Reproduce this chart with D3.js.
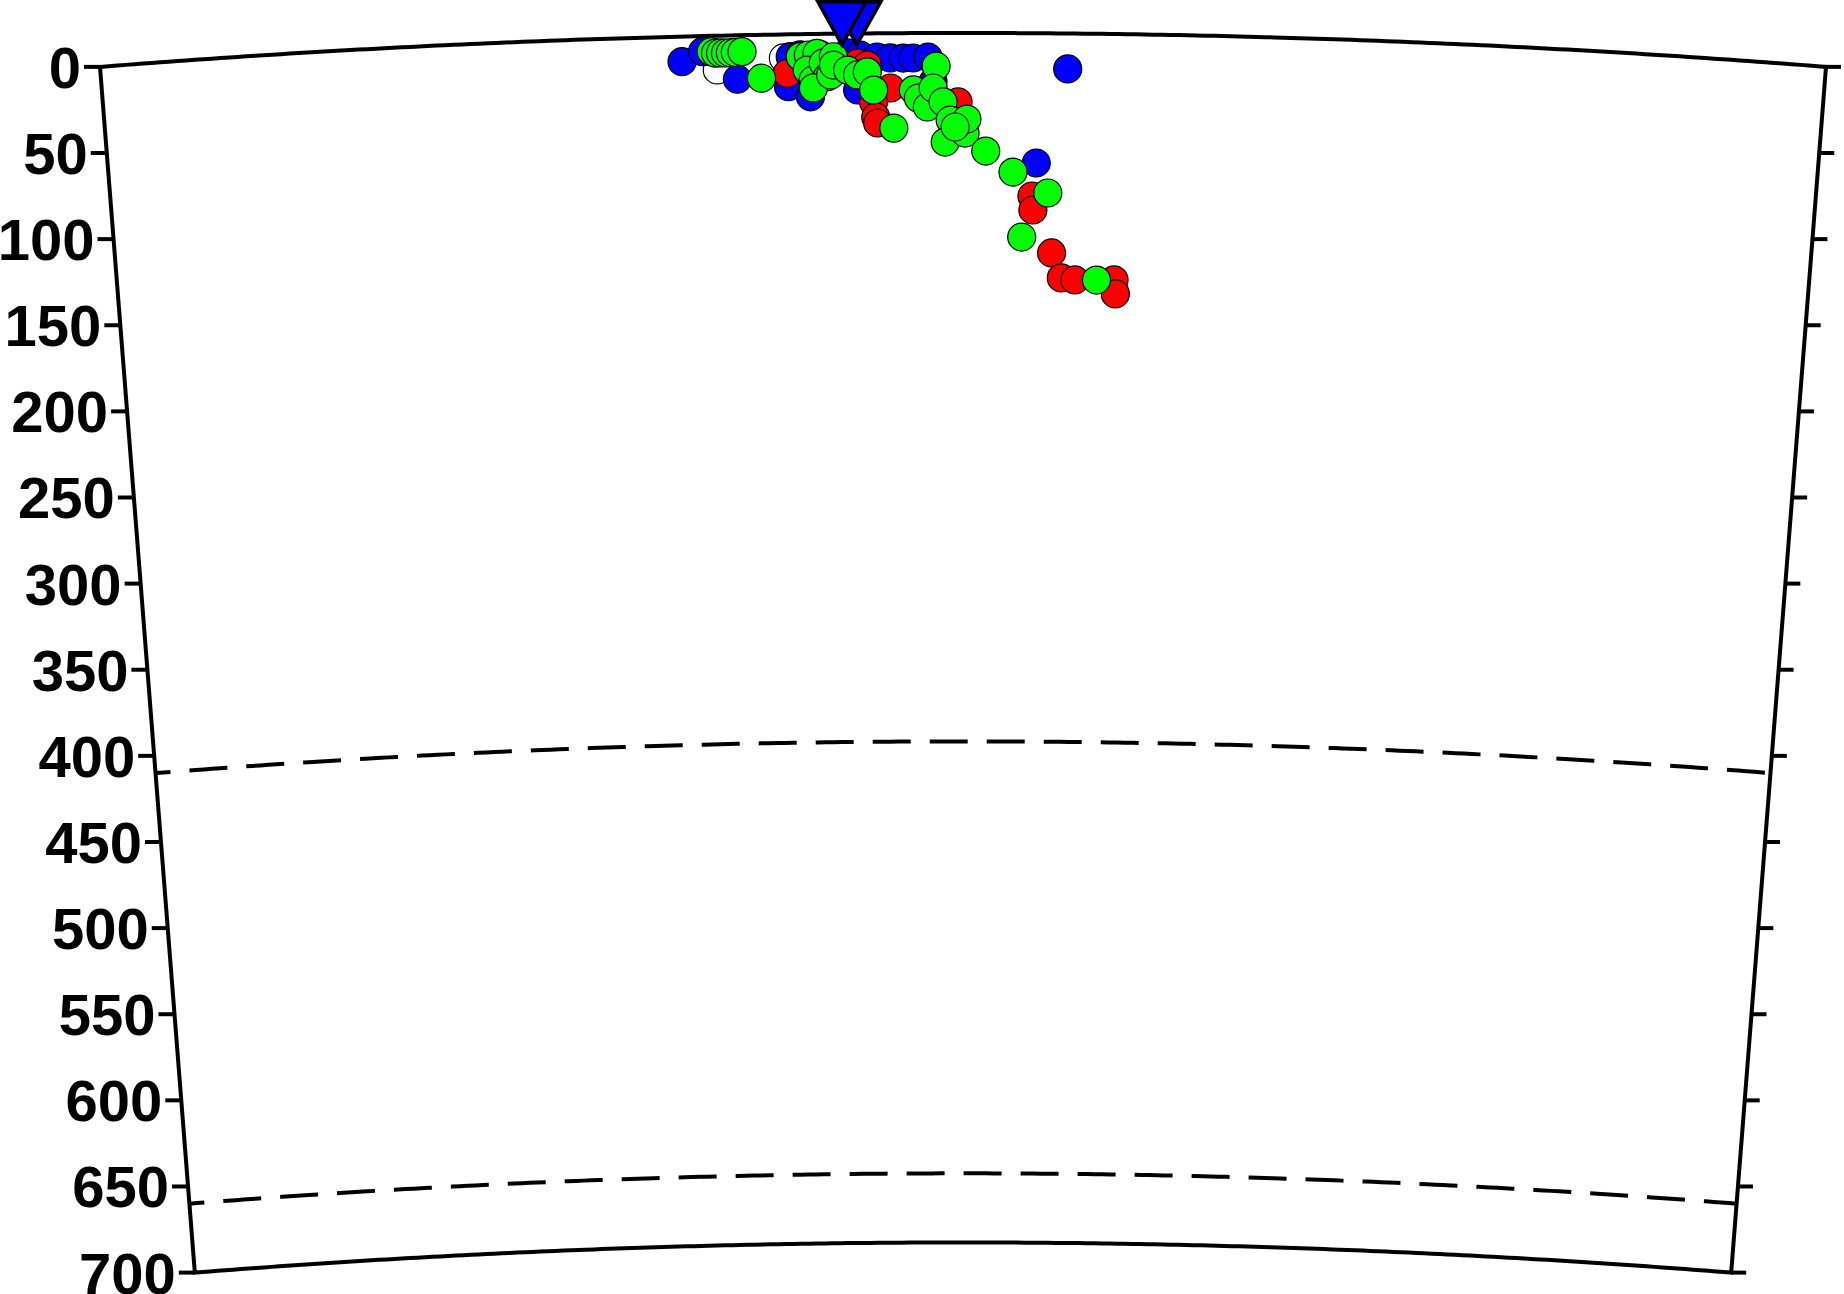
<!DOCTYPE html>
<html><head><meta charset="utf-8">
<script src="https://cdn.jsdelivr.net/npm/d3@7"></script>
<style>html,body{margin:0;padding:0;background:#fff;overflow:hidden} svg{display:block}</style>
</head><body>
<svg id="chart" width="1844" height="1294"></svg>
<script>
// ---- data ----
const depthTicks = [0,50,100,150,200,250,300,350,400,450,500,550,600,650,700];
const discontinuities = [410, 660];
// volcano markers (distance along profile km, elevation as negative depth km), in draw order
const volcanoDist = [438.6, 430.0];
const volcanoDepth = [-6, -6];
// events: distance along profile (km), depth (km)
const whiteDist  = [357.3, 395.8];
const whiteDepth = [19.8, 13.6];
const blueDist  = [337.0, 349.0, 368.9, 399.8, 398.5, 411.2, 405.6, 417.2, 432.9, 440.4, 450.2, 457.8, 465.3, 471.1, 479.7, 438.7, 482.6, 542.9, 560.8];
const blueDepth = [14.5,  9.0,   25.4,  12.9,  30.3,  36.3,  11.9,  11.9,  11.2,  12.5,  13.7,  14.3,  14.4,  14.4,  13.9,  32.7,  28.3,  75.1,  20.5];
const redDist  = [397.9, 438.7, 444.4, 457.8, 447.9, 449.1, 450.2, 497.1, 540.5, 541.1, 552.3, 558.2, 566.2, 589.4, 590.3];
const redDepth = [22.5,  17.1,  18.3,  31.7,  39.7,  48.4,  51.9,  39.9,  94.2,  102.3, 127.1, 141.5, 142.6, 142.3, 150.4];
const greenDist  = [354.0, 356.5, 359.4, 362.3, 365.1, 368.0, 371.9, 382.9, 405.6, 410.3, 415.3, 409.5, 412.9, 418.9, 421.2, 424.8, 413.0, 423.1, 424.8, 433.0, 438.7, 444.4, 448.0, 459.6, 484.4, 471.1, 474.0, 479.2, 482.6, 488.4, 492.5, 489.6, 501.2, 502.3, 495.4, 513.3, 529.3, 549.8, 534.6, 579.0];
const greenDepth = [9.1,   10.0,  10.0,  10.1,  10.0,  9.8,   9.5,   25.1,  13.0,  12.1,  11.2,  20.8,  26.6,  16.8,  24.8,  13.3,  31.2,  23.8,  18.1,  21.1,  24.0,  22.3,  32.8,  54.9,  19.1,  32.9,  37.6,  42.8,  31.8,  39.9,  50.4,  63.1,  57.9,  49.8,  54.4,  68.3,  80.4,  92.4,  118.0, 142.5];

// ---- geometry (curved earth cross-section) ----
const profileLen = 1000, earthR = 6371, maxDepth = 700;
const halfAng = (profileLen/2)/earthR;
const cx = 963, topY = 33;
const k = 863/(earthR*Math.sin(halfAng));
const R0 = earthR*k;
const cy = topY + R0;
const angle = d3.scaleLinear().domain([0, profileLen]).range([-halfAng, halfAng]);
const radius = d3.scaleLinear().domain([0, maxDepth]).range([R0, R0 - maxDepth*k]);
function proj(dist, depth){ const a = angle(dist), r = radius(depth); return [cx + r*Math.sin(a), cy - r*Math.cos(a)]; }

const svg = d3.select('#chart');
const line = d3.line();
const samples = d3.range(0, 201).map(i => profileLen*i/200);

// frame
const framePts = [
  ...samples.map(s => proj(s, 0)),
  ...d3.range(0, 71).map(i => proj(profileLen, i*10)),
  ...samples.slice().reverse().map(s => proj(s, maxDepth)),
  ...d3.range(70, -1, -1).map(i => proj(0, i*10))
];
svg.append('path').attr('d', line(framePts) + 'Z')
  .attr('fill','none').attr('stroke','#000').attr('stroke-width',4).attr('stroke-linejoin','miter');

// discontinuities
discontinuities.forEach(d => {
  svg.append('path').attr('d', line(samples.map(s => proj(s, d))))
    .attr('fill','none').attr('stroke','#000').attr('stroke-width',4)
    .attr('stroke-dasharray','38 19').attr('stroke-dashoffset',23);
});

// ticks + labels
const tg = svg.append('g');
depthTicks.forEach(d => {
  const [xl, yl] = proj(0, d);
  const [xr, yr] = proj(profileLen, d);
  tg.append('line').attr('x1', xl-16).attr('y1', yl).attr('x2', xl).attr('y2', yl)
    .attr('stroke','#000').attr('stroke-width',4);
  tg.append('line').attr('x1', xr).attr('y1', yr).attr('x2', xr+15).attr('y2', yr)
    .attr('stroke','#000').attr('stroke-width',4);
  tg.append('text').attr('x', xl-19).attr('y', yl+21)
    .attr('text-anchor','end')
    .attr('font-family','"Liberation Sans", Arial, Helvetica, sans-serif')
    .attr('font-weight','bold').attr('font-size',58)
    .text(d);
});

// events
function drawSeries(dists, depths, fill){
  const g = svg.append('g');
  dists.forEach((s, i) => {
    const [x, y] = proj(s, depths[i]);
    g.append('circle').attr('cx', x).attr('cy', y).attr('r', 14)
      .attr('fill', fill).attr('stroke','#000').attr('stroke-width',1.2);
  });
}
drawSeries(whiteDist, whiteDepth, '#ffffff');
drawSeries(blueDist, blueDepth, '#0000ff');
drawSeries(redDist, redDepth, '#ff0000');
drawSeries(greenDist, greenDepth, '#00ff00');

// volcano triangles
const triW = 48, triH = 43;
volcanoDist.forEach((s, i) => {
  const [x, y] = proj(s, volcanoDepth[i]);
  svg.append('path')
    .attr('d', line([[x-triW/2, y-triH/2],[x+triW/2, y-triH/2],[x, y+triH/2]]) + 'Z')
    .attr('fill','#0000ff').attr('stroke','#000').attr('stroke-width',3.5).attr('stroke-linejoin','miter');
});
</script>
</body></html>
